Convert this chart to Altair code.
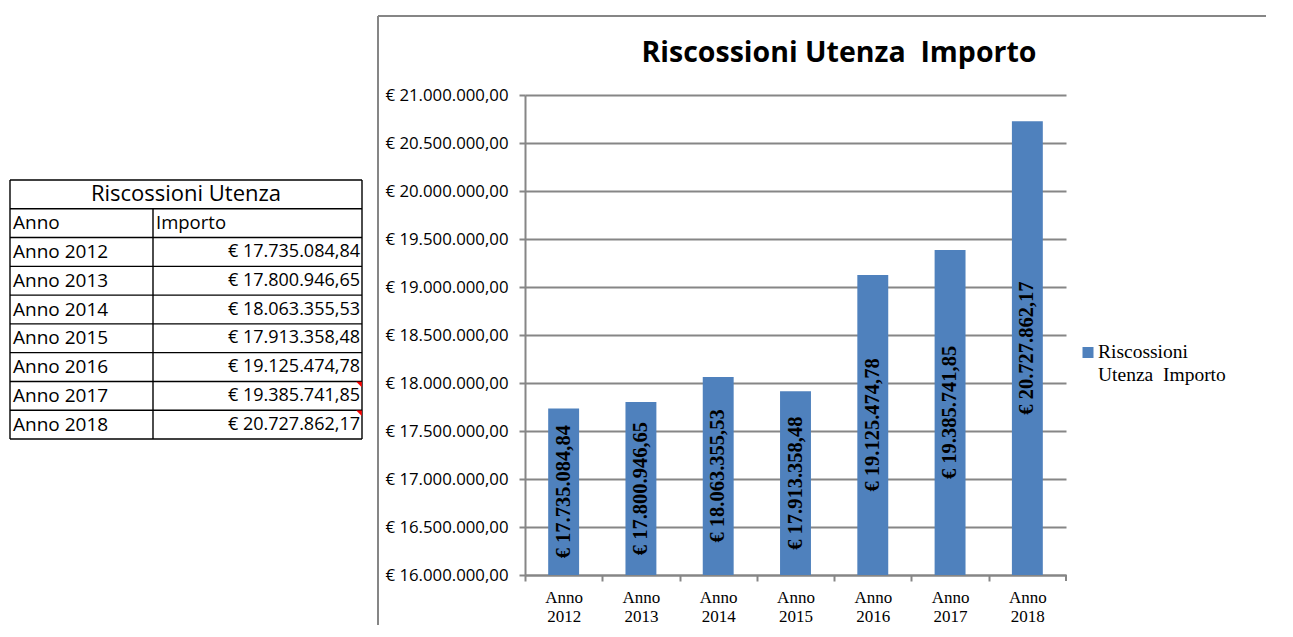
import altair as alt
import pandas as pd

# ---- data ----
years = ["Anno 2012", "Anno 2013", "Anno 2014", "Anno 2015", "Anno 2016", "Anno 2017", "Anno 2018"]
importi = [17735084.84, 17800946.65, 18063355.53, 17913358.48, 19125474.78, 19385741.85, 20727862.17]
commenti = [False, False, False, False, False, True, True]
series_lines = ["Riscossioni", "Utenza\u00a0 Importo"]
chart_title = "Riscossioni Utenza\u00a0 Importo"
table_title = "Riscossioni Utenza"
table_headers = ["Anno", "Importo"]
y_min, y_max, y_step = 16000000, 21000000, 500000

# ---- styles ----
W, H = 541, 480
BLUE = "#4F81BD"
GRAY = "#868686"
SANS = "Open Sans"
SERIF = "Liberation Serif"
STEP = W / len(years)


def it_money(expr):
    return ("'€ ' + replace(replace(replace(format(" + expr + ", ',.2f'), "
            "regexp(',', 'g'), '#'), regexp('[.]', 'g'), ','), regexp('#', 'g'), '.')")


df = pd.DataFrame({"anno": years, "importo": importi, "commento": commenti})
df["riga"] = list(range(2, 2 + len(years)))
df["riga_mid"] = df["riga"] + 0.5

one = alt.Data(values=[{"k": 0}])

# ---- bar chart ----
x_enc = alt.X(
    "anno:N", sort=years, title=None,
    scale=alt.Scale(paddingInner=0.6, paddingOuter=0.3),
    axis=alt.Axis(
        labelExpr="split(datum.label, ' ')", labelFont=SERIF, labelFontSize=17,
        labelColor="black", labelLineHeight=19, labelAngle=0, labelPadding=8,
        labelBaseline="top",
        tickOffset=-STEP / 2, labelOffset=STEP / 2, tickSize=6, tickColor=GRAY,
        tickWidth=2, domainColor=GRAY, domainWidth=2, grid=False,
    ),
)
y_scale = alt.Scale(domain=[y_min, y_max], nice=False, zero=False)
y_axis = alt.Axis(
    values=list(range(y_min, y_max + 1, y_step)), labelExpr=it_money("datum.value"),
    labelFont=SANS, labelFontSize=16.8, labelColor="black", labelPadding=11,
    tickSize=6, tickColor=GRAY, tickWidth=2, domainColor=GRAY, domainWidth=2,
    gridColor=GRAY, gridWidth=2,
)

base = alt.Chart(df).transform_calculate(
    etichetta=it_money("datum.importo"),
    mid=f"(datum.importo + {y_min}) / 2",
    base_v=str(y_min),
)
bars = base.mark_bar(color=BLUE).encode(
    x=x_enc,
    y=alt.Y("importo:Q", title=None, scale=y_scale, axis=y_axis),
    y2=alt.Y2("base_v:Q"),
)
labels = base.mark_text(
    angle=270, font=SERIF, fontWeight="bold", fontSize=20.5, color="black",
    align="center", baseline="middle",
).encode(
    x=alt.X("anno:N", sort=years),
    y=alt.Y("mid:Q"),
    text="etichetta:N",
)
end_tick = alt.Chart(one).mark_rule(color=GRAY, strokeWidth=2).encode(
    x=alt.value(W), y=alt.value(H), y2=alt.value(H + 6)
)
main = alt.layer(bars, labels, end_tick)

# ---- table on the left ----
n_rows = len(years) + 2
ts = alt.Scale(domain=[0, n_rows], range=[85, 344])
bounds_df = pd.DataFrame({"b": list(range(n_rows + 1))})
TL, TM, TR = -515, -372, -163
vert_df = pd.DataFrame({"top": [0, 0, 1], "bottom": [n_rows] * 3, "pos": ["l", "r", "m"]})

h_rules = alt.Chart(bounds_df).mark_rule(color="black", strokeWidth=1.4).encode(
    y=alt.Y("b:Q", scale=ts, axis=None), x=alt.value(TL), x2=alt.value(TR)
)
v_left = alt.Chart(vert_df).transform_filter("datum.pos == 'l'").mark_rule(
    color="black", strokeWidth=1.4
).encode(x=alt.value(TL), y=alt.Y("top:Q", scale=ts, axis=None), y2="bottom:Q")
v_right = alt.Chart(vert_df).transform_filter("datum.pos == 'r'").mark_rule(
    color="black", strokeWidth=1.4
).encode(x=alt.value(TR), y=alt.Y("top:Q", scale=ts, axis=None), y2="bottom:Q")
v_mid = alt.Chart(vert_df).transform_filter("datum.pos == 'm'").mark_rule(
    color="black", strokeWidth=1.4
).encode(x=alt.value(TM), y=alt.Y("top:Q", scale=ts, axis=None), y2="bottom:Q")

hdr_df = pd.DataFrame({"testo": [table_title], "r": [0.5]})
t_title = alt.Chart(hdr_df).mark_text(
    font=SANS, fontSize=22, color="black", align="center", baseline="middle"
).encode(x=alt.value((TL + TR) / 2), y=alt.Y("r:Q", scale=ts, axis=None), text="testo:N")
col1_df = pd.DataFrame({"testo": [table_headers[0]] + years, "r": [1.5] + list(df["riga_mid"])})
t_col1 = alt.Chart(col1_df).mark_text(
    font=SANS, fontSize=19, color="black", align="left", baseline="middle"
).encode(x=alt.value(TL + 3), y=alt.Y("r:Q", scale=ts, axis=None), text="testo:N")
h2_df = pd.DataFrame({"testo": [table_headers[1]], "r": [1.5]})
t_h2 = alt.Chart(h2_df).mark_text(
    font=SANS, fontSize=18.5, color="black", align="left", baseline="middle"
).encode(x=alt.value(TM + 3), y=alt.Y("r:Q", scale=ts, axis=None), text="testo:N")
t_vals = base.mark_text(
    font=SANS, fontSize=18, color="black", align="right", baseline="middle"
).encode(
    x=alt.value(TR - 2), y=alt.Y("riga_mid:Q", scale=ts, axis=None), text="etichetta:N",
)
t_flags = alt.Chart(df).transform_filter("datum.commento").mark_point(
    shape="M-1,-1L1,-1L1,1Z", filled=True, color="#ff0000", size=30,
    opacity=1, strokeWidth=0, yOffset=3, xOffset=-3,
).encode(x=alt.value(TR), y=alt.Y("riga:Q", scale=ts, axis=None))
table = alt.layer(h_rules, v_left, v_right, v_mid, t_title, t_col1, t_h2, t_vals, t_flags)

# ---- chart frame, title and legend ----
frame_l = alt.Chart(one).mark_rule(color=GRAY, strokeWidth=2).encode(
    x=alt.value(-147), y=alt.value(-79), y2=alt.value(H + 60)
)
frame_t = alt.Chart(one).mark_rule(color=GRAY, strokeWidth=2).encode(
    x=alt.value(-147), x2=alt.value(W + 220), y=alt.value(-79)
)
title_df = pd.DataFrame({"t": [chart_title]})
title = alt.Chart(title_df).mark_text(
    font=SANS, fontSize=28.5, fontWeight="bold", color="black",
    align="center", baseline="alphabetic",
).encode(x=alt.value(314), y=alt.value(-33), text="t:N")
leg_sym = alt.Chart(one).mark_square(color=BLUE, size=121, opacity=1).encode(
    x=alt.value(563), y=alt.value(257.5)
)
leg_df = pd.DataFrame({"t": ["\n".join(series_lines)]})
leg_txt = alt.Chart(leg_df).mark_text(
    font=SERIF, fontSize=19.5, color="black", align="left", baseline="alphabetic",
    lineBreak="\n", lineHeight=23,
).encode(x=alt.value(573), y=alt.value(263), text="t:N")
deco = alt.layer(frame_l, frame_t, title, leg_sym, leg_txt)

chart = alt.layer(main, table, deco).resolve_scale(y="independent").properties(
    width=W, height=H,
    padding={"left": 517, "top": 87, "right": 200, "bottom": 50},
    autosize=alt.AutoSizeParams(type="none"),
).configure_view(stroke=None)

chart.save("out.html", embed_options={"renderer": "svg", "actions": False})
